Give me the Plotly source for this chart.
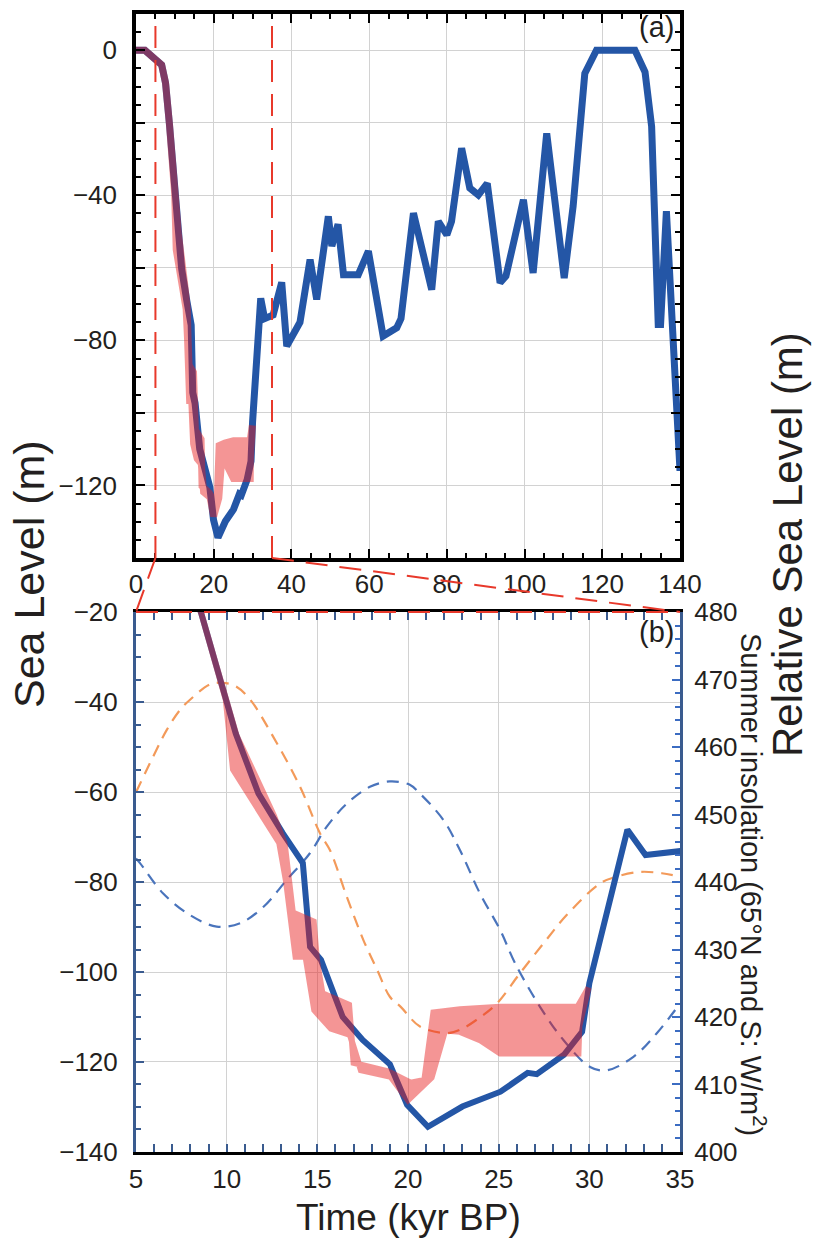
import plotly.graph_objects as go

# Sea-level history over the last glacial cycle (kyr BP, m)
age_kyr = [0, 2.3, 6.6, 7.6, 8.6, 10.5, 11.75, 13.1, 14.2, 14.6, 15.2, 16.4, 17.5, 19.0,
           19.95, 21.1, 23.0, 25.1, 26.6, 27.1, 28.6, 29.6, 30.0, 32.1, 33.1, 35.3, 37.5,
           38.8, 42.2, 44.8, 46.5, 49.5, 50.4, 52.0, 53.4, 57.2, 59.8, 63.6, 67.1, 68.2,
           71.4, 76.1, 77.8, 80.0, 81.2, 83.8, 85.9, 88.1, 90.4, 93.7, 95.2, 99.7, 102.2,
           105.7, 110.2, 112.5, 115.5, 118.5, 128.4, 131.0, 132.7, 134.4, 135.0, 136.5, 140.0]
sea_level_m = [0, 0, -4, -9, -20.3, -47, -60.3, -69.2, -75.8, -94.4, -97.3, -110, -115.1, -120.5,
               -129.5, -134.4, -129.9, -126.6, -122.4, -122.7, -118.4, -113.3, -102.5, -68.4, -74, -73, -64,
               -81.6, -75, -57.7, -68.7, -45.8, -54, -48, -61.9, -61.9, -55.4, -78.8, -76.5, -74,
               -44.9, -66, -47.2, -50.9, -47.2, -27, -38, -39.9, -36.7, -64.1, -62.3, -41.2, -61.4,
               -22.9, -62.8, -43, -6.4, 0, 0, -6, -21, -75.6, -75.6, -44.4, -116]

# Envelope of the relative sea-level reconstruction (upper and lower edges)
band_upper_age = [0, 2.3, 6.6, 7.6, 8.6, 9.85, 10.55, 10.9, 12.6, 13.2, 13.4, 13.65, 14.8, 14.98,
                  15.28, 16.75, 17.0, 18.9, 20.15, 20.9, 21.4, 22.87, 25.08, 29.35, 29.95]
band_upper_sl = [0, 0, -4, -9, -20.3, -38, -47.5, -50.5, -65.2, -71.5, -79.5, -86.8, -88.8, -97.5,
                 -104.7, -107.3, -120.2, -122.1, -124.6, -124, -109, -108.3, -107.7, -107.7, -103.5]
band_lower_age = [0, 2.3, 6.6, 7.6, 8.6, 9.95, 10.35, 12.9, 13.28, 13.8, 14.35, 14.83, 15.75, 16.8,
                  17.4, 19.05, 20.0, 21.3, 22.05, 22.87, 24.0, 25.08, 29.4, 29.45, 29.95]
band_lower_sl = [0, 0, -4, -9, -20.3, -39.5, -55, -71.3, -80, -96.6, -96.6, -108.5, -112.6, -114,
                 -121.8, -123.3, -128.5, -123.5, -113, -113.3, -115.2, -118.1, -118.1, -112, -103.5]

# Summer insolation (W/m2) at 65N and 65S
ins_n_age = [5.0, 5.95, 6.69, 7.43, 7.98, 9.1, 9.8, 10.5, 11.3, 12.57, 14.05, 15.15, 15.7, 16.6,
             17.54, 18.3, 19.0, 19.6, 20.66, 22.14, 22.87, 24.0, 24.9, 26.18, 27.5, 28.75, 30.6,
             31.5, 32.8, 34.0, 35.0]
ins_n = [453.3, 458.6, 462.5, 465.5, 467, 469.3, 469.5, 469, 467, 461.5, 454.1, 447.2, 444.7, 438,
         431.4, 427, 423, 421.5, 418.6, 417.6, 418.1, 420, 422, 426.5, 431, 435.1, 439.8,
         440.8, 441.5, 441.3, 440.8]
ins_s_age = [5.0, 5.22, 6.5, 7.98, 9.45, 10.74, 12.02, 13.31, 14.6, 15.52, 16.62, 17.9, 19.0, 20.1,
             20.66, 21.95, 22.87, 23.97, 25.08, 25.9, 27.28, 28.57, 30.04, 30.96, 32.43, 33.72, 35.0]
ins_s = [443.5, 442.8, 438.3, 435.1, 433.4, 433.9, 436.3, 440.3, 444.3, 448.2, 451.6, 454.1, 454.9,
         454.4, 453.1, 449.2, 444.7, 438.3, 432.9, 428, 421.5, 416.6, 412.6, 412.1, 414.1, 417.6, 422]

top_ticks = [-140, -120, -100, -80, -60, -40, -20, 0]
top_ticktext = ["", "\u2212120", "", "\u221280", "", "\u221240", "", "0"]

BLUE = "#2456a6"
PINK = "#e91b1b"
RED_DASH = "#e8392b"
ORANGE = "#f39a5a"
LIGHT_BLUE = "#4a74bc"
FRAME_BLUE = "#3a5b8f"
GRID = "#d2d2d2"
TEXT = "#231f20"
FONT = "Liberation Sans, Arial, Helvetica, sans-serif"

band_x = band_upper_age + band_lower_age[::-1]
band_y = band_upper_sl + band_lower_sl[::-1]

fig = go.Figure()

# --- panel (a) ---
fig.add_trace(go.Scatter(x=age_kyr, y=sea_level_m, mode="lines",
                         line=dict(color=BLUE, width=7), xaxis="x", yaxis="y",
                         showlegend=False, hoverinfo="skip"))
fig.add_trace(go.Scatter(x=band_x, y=band_y, mode="lines", fill="toself",
                         fillcolor=PINK, line=dict(color=PINK, width=7), opacity=0.46,
                         xaxis="x", yaxis="y", showlegend=False, hoverinfo="skip"))

# --- panel (b) ---
fig.add_trace(go.Scatter(x=ins_s_age, y=ins_s, mode="lines", line_shape="spline",
                         line=dict(color=LIGHT_BLUE, width=2.2, dash="12px,8px"),
                         xaxis="x2", yaxis="y2", showlegend=False, hoverinfo="skip"))
fig.add_trace(go.Scatter(x=ins_n_age, y=ins_n, mode="lines", line_shape="spline",
                         line=dict(color=ORANGE, width=2.2, dash="12px,8px"),
                         xaxis="x2", yaxis="y2", showlegend=False, hoverinfo="skip"))
fig.add_trace(go.Scatter(x=age_kyr, y=sea_level_m, mode="lines",
                         line=dict(color=BLUE, width=6), xaxis="x2", yaxis="y3",
                         showlegend=False, hoverinfo="skip"))
fig.add_trace(go.Scatter(x=band_x, y=band_y, mode="lines", fill="toself",
                         fillcolor=PINK, line=dict(color=PINK, width=6), opacity=0.46,
                         xaxis="x2", yaxis="y3", showlegend=False, hoverinfo="skip"))

TOP_BOTTOM = 0.522
BOT_TOP = 0.4745

tick_font = dict(family=FONT, size=26, color=TEXT)

fig.update_layout(
    width=815, height=1242,
    margin=dict(l=136, r=135, t=14, b=90, autoexpand=False),
    paper_bgcolor="white", plot_bgcolor="white",
    font=dict(family=FONT, color=TEXT),
    xaxis=dict(domain=[0, 1], anchor="y", range=[0, 140], tickvals=list(range(0, 141, 20)),
               ticks="inside", ticklen=9, tickwidth=2, tickcolor="black",
               minor=dict(dtick=5, tick0=0, ticks="inside", ticklen=5, tickwidth=1.5, tickcolor="black"),
               showgrid=True, gridcolor=GRID, gridwidth=1.2,
               showline=True, linecolor="black", linewidth=3.5, mirror="allticks",
               tickfont=tick_font, ticklabelstandoff=0, zeroline=False, automargin=False),
    yaxis=dict(domain=[TOP_BOTTOM, 1], anchor="x", range=[-140, 10],
               tickvals=top_ticks, ticktext=top_ticktext,
               ticks="inside", ticklen=9, tickwidth=2, tickcolor="black",
               minor=dict(dtick=5, tick0=0, ticks="inside", ticklen=5, tickwidth=1.5, tickcolor="black"),
               showgrid=True, gridcolor=GRID, gridwidth=1.2,
               showline=True, linecolor="black", linewidth=3.5, mirror="allticks",
               tickfont=tick_font, ticklabelstandoff=10, zeroline=False, automargin=False),
    xaxis2=dict(domain=[0, 1], anchor="y2", range=[5, 35], tick0=5, dtick=5,
                ticks="inside", ticklen=8, tickwidth=2, tickcolor=FRAME_BLUE,
                minor=dict(dtick=1, tick0=5, ticks="inside", ticklen=5, tickwidth=1.5, tickcolor=FRAME_BLUE),
                showgrid=True, gridcolor=GRID, gridwidth=1.2,
                showline=True, linecolor="black", linewidth=3, mirror="allticks",
                tickfont=tick_font, ticklabelstandoff=2, zeroline=False, automargin=False),
    yaxis2=dict(domain=[0, BOT_TOP], anchor="x2", side="right", range=[400, 480], dtick=10,
                ticks="inside", ticklen=8, tickwidth=2, tickcolor="#3b6cc2",
                minor=dict(dtick=2, ticks="inside", ticklen=5, tickwidth=1.5, tickcolor="#3b6cc2"),
                showgrid=False, showline=True, linecolor=FRAME_BLUE, linewidth=3,
                tickfont=tick_font, ticklabelstandoff=6, zeroline=False, automargin=False),
    yaxis3=dict(overlaying="y2", anchor="x2", side="left", range=[-140, -20], dtick=20,
                ticks="inside", ticklen=8, tickwidth=2, tickcolor=FRAME_BLUE,
                minor=dict(dtick=5, ticks="inside", ticklen=5, tickwidth=1.5, tickcolor=FRAME_BLUE),
                showgrid=True, gridcolor=GRID, gridwidth=1.2,
                showline=True, linecolor=FRAME_BLUE, linewidth=3,
                tickfont=tick_font, ticklabelstandoff=10, zeroline=False, automargin=False),
)

dash_line = dict(color=RED_DASH, width=2, dash="22px,12px")
shapes = [
    # window of panel (b) marked on panel (a)
    dict(type="line", xref="x", yref="paper", x0=5, x1=5, y0=TOP_BOTTOM, y1=1, line=dash_line),
    dict(type="line", xref="x", yref="paper", x0=35, x1=35, y0=TOP_BOTTOM, y1=1, line=dash_line),
    # zoom connectors
    dict(type="line", xref="paper", yref="paper", x0=5 / 140, y0=TOP_BOTTOM, x1=0, y1=BOT_TOP, line=dash_line),
    dict(type="line", xref="paper", yref="paper", x0=35 / 140, y0=TOP_BOTTOM, x1=1, y1=BOT_TOP, line=dash_line),
    dict(type="line", xref="paper", yref="paper", x0=0, y0=BOT_TOP, x1=1, y1=BOT_TOP, line=dash_line),
]
fig.update_layout(shapes=shapes)


def px_x(px):
    return (px - 136) / 544


def px_y(px):
    return (1152 - px) / 1138


annotations = [
    dict(text="(a)", x=0.992, y=1.004, xref="paper", yref="paper", xanchor="right", yanchor="top",
         showarrow=False, font=dict(family=FONT, size=29, color=TEXT)),
    dict(text="(b)", x=0.992, y=BOT_TOP - 0.002, xref="paper", yref="paper", xanchor="right", yanchor="top",
         showarrow=False, font=dict(family=FONT, size=29, color=TEXT)),
    dict(text="Sea Level (m)", x=px_x(29), y=px_y(574), xref="paper", yref="paper",
         textangle=-90, showarrow=False, xanchor="center", yanchor="middle",
         font=dict(family=FONT, size=43, color=TEXT)),
    dict(text="Relative Sea Level (m)", x=px_x(787), y=px_y(545), xref="paper", yref="paper",
         textangle=-90, showarrow=False, xanchor="center", yanchor="middle",
         font=dict(family=FONT, size=42, color=TEXT)),
    dict(text="Summer insolation (65\u00b0N and S: W/m<sup>2</sup>)", x=px_x(753),
         y=px_y(884), xref="paper", yref="paper",
         textangle=90, showarrow=False, xanchor="center", yanchor="middle",
         font=dict(family=FONT, size=29, color=TEXT)),
    dict(text="Time (kyr BP)", x=0.5, y=px_y(1217), xref="paper", yref="paper",
         showarrow=False, xanchor="center", yanchor="middle",
         font=dict(family=FONT, size=37, color=TEXT)),
]
fig.update_layout(annotations=annotations)

fig.write_html("out.html")
